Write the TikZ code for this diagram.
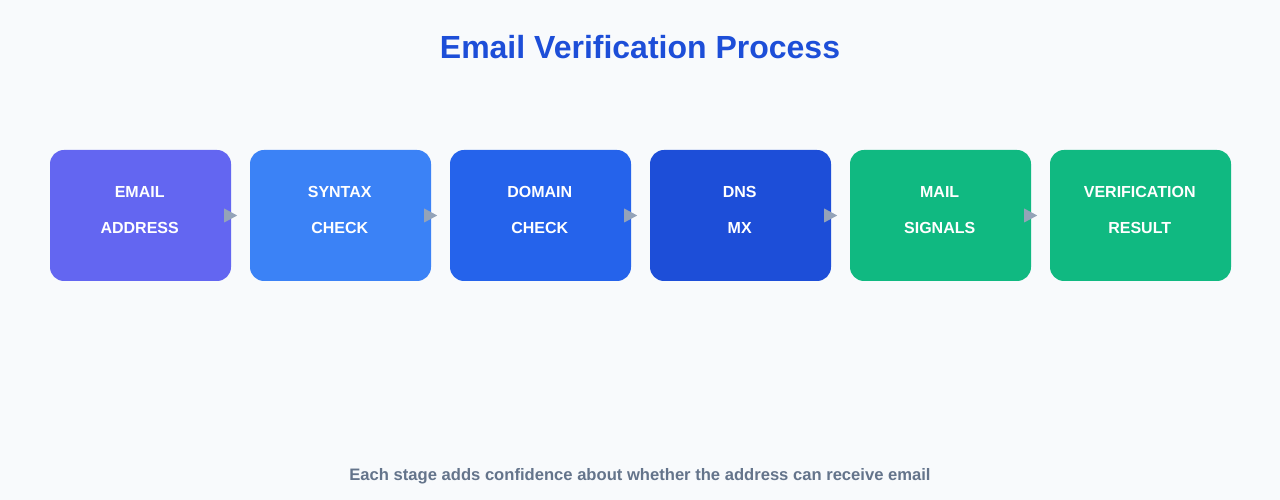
\documentclass[tikz,border=0pt]{standalone}
\usepackage{fontspec}
\setmainfont{Liberation Sans}
\definecolor{bgc}{HTML}{F8FAFC}
\definecolor{titlec}{HTML}{1D4ED8}
\definecolor{footc}{HTML}{64748B}
\definecolor{arrc}{HTML}{94A3B8}
\definecolor{ca}{HTML}{6366F1}
\definecolor{cb}{HTML}{3B82F6}
\definecolor{cc}{HTML}{2563EB}
\definecolor{cd}{HTML}{1D4ED8}
\definecolor{ce}{HTML}{10B981}
\begin{document}
\begin{tikzpicture}[x=1pt,y=1pt,
  stagebox/.style={draw=none, rounded corners=14pt, minimum width=181pt, minimum height=131pt, inner sep=0pt},
  lbl/.style={text=white, font=\fontsize{16}{19}\selectfont\bfseries, inner sep=0pt, anchor=base},
  tri/.style={fill=arrc, draw=none}]
\fill[bgc] (0,0) rectangle (1280,500);
\useasboundingbox (0,0) rectangle (1280,500);
\node[text=titlec, font=\fontsize{32}{38}\selectfont\bfseries, inner sep=0pt, anchor=base] (title) at (640,441.5) {Email Verification Process};
\foreach \i/\c/\a/\b in {1/ca/EMAIL/ADDRESS, 2/cb/SYNTAX/CHECK, 3/cc/DOMAIN/CHECK, 4/cd/DNS/MX, 5/ce/MAIL/SIGNALS, 6/ce/VERIFICATION/RESULT}{
  \node[stagebox, fill=\c] (s\i) at ({140.5+200*(\i-1)},284.5) {};
  \node[lbl] (s\i a) at ([xshift=-0.8pt,yshift=17.5pt]s\i.center) {\a};
  \node[lbl] (s\i b) at ([xshift=-0.8pt,yshift=-18.5pt]s\i.center) {\b};
}
\foreach \i in {1,...,5}{
  \fill[tri] ([xshift=-7pt,yshift=7pt]s\i.east) -- ([xshift=6pt]s\i.east) -- ([xshift=-7pt,yshift=-7pt]s\i.east) -- cycle;
}
\node[text=footc, font=\fontsize{16.6}{19}\selectfont\bfseries, inner sep=0pt, anchor=base] (foot) at (640,19) {Each stage adds confidence about whether the address can receive email};
\end{tikzpicture}
\end{document}
